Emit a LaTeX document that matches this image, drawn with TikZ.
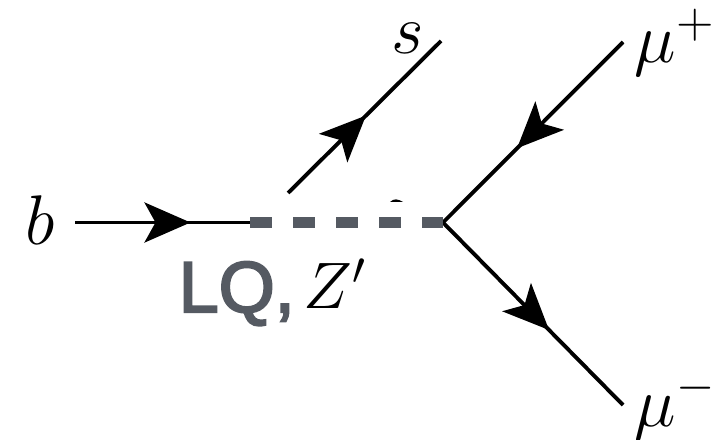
\documentclass[tikz,border=0pt]{standalone}
\usepackage{fix-cm}
\usepackage{amsmath,amssymb}
\usepackage{fontspec}
\newfontfamily\lqfont[FakeBold=3]{Liberation Sans}
\usetikzlibrary{arrows.meta,decorations.markings}
\definecolor{lqgray}{HTML}{555A62}
\tikzset{
  fermion/.style={draw=black,line width=1.1pt,postaction={decorate},
    decoration={markings,mark=at position #1 with {\arrow{Stealth[length=4.6mm,width=4mm,inset=1.1mm]}}}},
  mediator/.style={draw=lqgray,line width=.11cm,dash pattern=on .22cm off .21cm},
  leg/.style={font=\fontsize{20}{24}\selectfont,text=black,inner sep=0pt},
  lqlabel/.style={font=\fontsize{20.5}{24}\selectfont\lqfont,text=lqgray,inner sep=0pt},
}
\begin{document}
\begin{tikzpicture}
  \useasboundingbox (0,0) rectangle (7.23,4.39);
  \coordinate (bin) at (.75,2.165);
  \coordinate (bend) at (2.50,2.165);
  \coordinate (sstart) at (2.88,2.46);
  \coordinate (send) at (4.41,3.98);
  \coordinate (vtx) at (4.43,2.165);
  \coordinate (mup) at (6.23,3.97);
  \coordinate (mum) at (6.23,.34);
  \draw[fermion=.66] (bin)--(bend);
  \draw[fermion=.51] (sstart)--(send);
  \draw[fermion=.59] (mup)--(vtx);
  \draw[fermion=.59] (vtx)--(mum);
  \draw[mediator] (bend)--(vtx);
  \fill[black] (3.90,2.37) .. controls (3.94,2.41) and (3.98,2.40) .. (4.03,2.37) -- cycle;
  \node[leg,anchor=base west] (blabel) at (.25,1.94) {$b$};
  \node[leg,anchor=base west] (slabel) at (3.91,3.85) {$s$};
  \node[leg,anchor=base west] (muplabel) at (6.34,3.76) {$\mu^+$};
  \node[leg,anchor=base west] (mumlabel) at (6.34,.13) {$\mu^-$};
  \node[lqlabel,anchor=base west] (lq) at (1.78,1.27) {LQ,};
  \node[leg,anchor=base west,font=\fontsize{18.7}{20}\selectfont] (zprime) at (3.03,1.31) {$Z'$};
\end{tikzpicture}
\end{document}
